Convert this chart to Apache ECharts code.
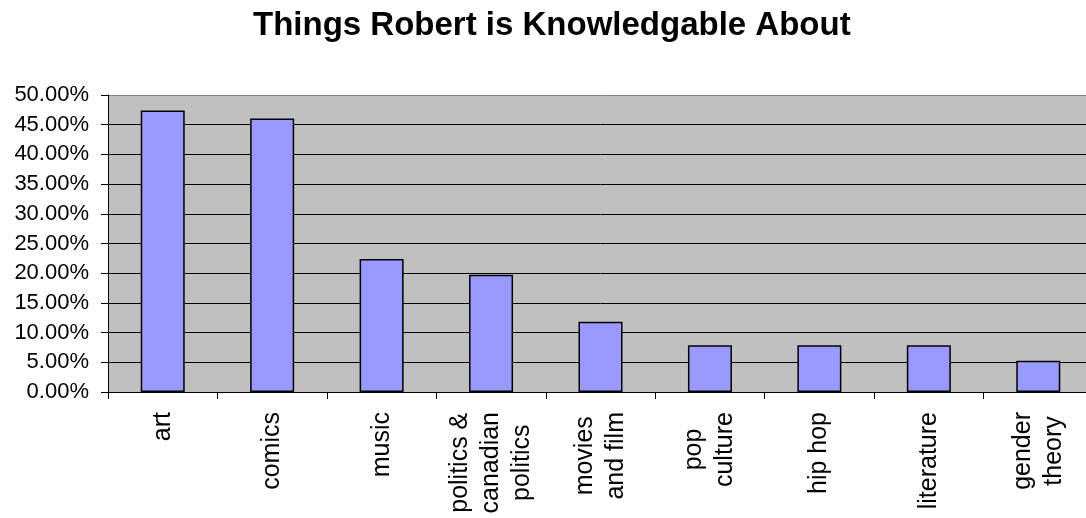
<!DOCTYPE html>
<html>
<head>
<meta charset="utf-8">
<script src="https://cdn.jsdelivr.net/npm/echarts@6/dist/echarts.min.js"></script>
<style>
html,body{margin:0;padding:0;background:#fff;overflow:hidden;}
#chart{width:1093px;height:518px;}
</style>
</head>
<body>
<div id="chart"></div>
<script>
const categories = ['art', 'comics', 'music', 'politics &\ncanadian\npolitics', 'movies\nand film', 'pop\nculture', 'hip hop', 'literature', 'gender\ntheory'];
const values = [47.37, 46.05, 22.37, 19.74, 11.84, 7.89, 7.89, 7.89, 5.26];
const titleText = 'Things Robert is Knowledgable About';

const FONT = '"Liberation Sans", Arial, sans-serif';
const XFS = 25;
const ctx = document.createElement('canvas').getContext('2d');
ctx.font = XFS + 'px "Liberation Sans"';
const rich = {};
categories.forEach((c, i) => {
  const lines = c.split('\n');
  const widths = lines.map(l => ctx.measureText(l).width);
  const maxW = Math.max(...widths);
  lines.forEach((l, j) => {
    rich['c' + i + 'x' + j] = {
      fontSize: XFS, fontFamily: FONT, color: '#000', lineHeight: 31,
      padding: [0, (maxW - widths[j]) / 2, 0, 0]
    };
  });
});

const chart = echarts.init(document.getElementById('chart'), null, { renderer: 'canvas' });
const splitColors = [];
for (let i = 0; i <= 10; i++) splitColors.push(i === 10 ? '#808080' : '#000');

chart.setOption({
  animation: false,
  backgroundColor: '#fff',
  title: {
    text: titleText,
    left: 248,
    top: 4,
    textStyle: { fontFamily: FONT, fontSize: 33, fontWeight: 'bold', color: '#000' }
  },
  grid: {
    left: 108, top: 95, right: 0, height: 297,
    show: true, backgroundColor: '#C0C0C0', borderWidth: 0
  },
  xAxis: {
    type: 'category',
    data: categories,
    boundaryGap: true,
    axisLine: { lineStyle: { color: '#000', width: 1 } },
    axisTick: { show: true, length: 7, lineStyle: { color: '#000' } },
    axisLabel: {
      rotate: 90,
      margin: 20,
      interval: 0,
      formatter: (v, i) => v.split('\n').map((l, j) => '{c' + i + 'x' + j + '|' + l + '}').join('\n'),
      rich: rich,
      fontSize: XFS, fontFamily: FONT, color: '#000'
    }
  },
  yAxis: {
    type: 'value',
    min: 0, max: 50, interval: 5,
    axisLine: { show: true, lineStyle: { color: '#000', width: 1 } },
    axisTick: { show: true, length: 7, lineStyle: { color: '#000' } },
    axisLabel: {
      margin: 19,
      fontSize: 22, fontFamily: FONT, color: '#000',
      formatter: v => v.toFixed(2) + '%'
    },
    splitLine: { show: true, lineStyle: { color: splitColors, width: 1 } }
  },
  series: [{
    type: 'bar',
    data: values,
    barWidth: 44,
    itemStyle: { color: '#9999FF', borderColor: '#000', borderWidth: 1.5 }
  }]
});
</script>
</body>
</html>
